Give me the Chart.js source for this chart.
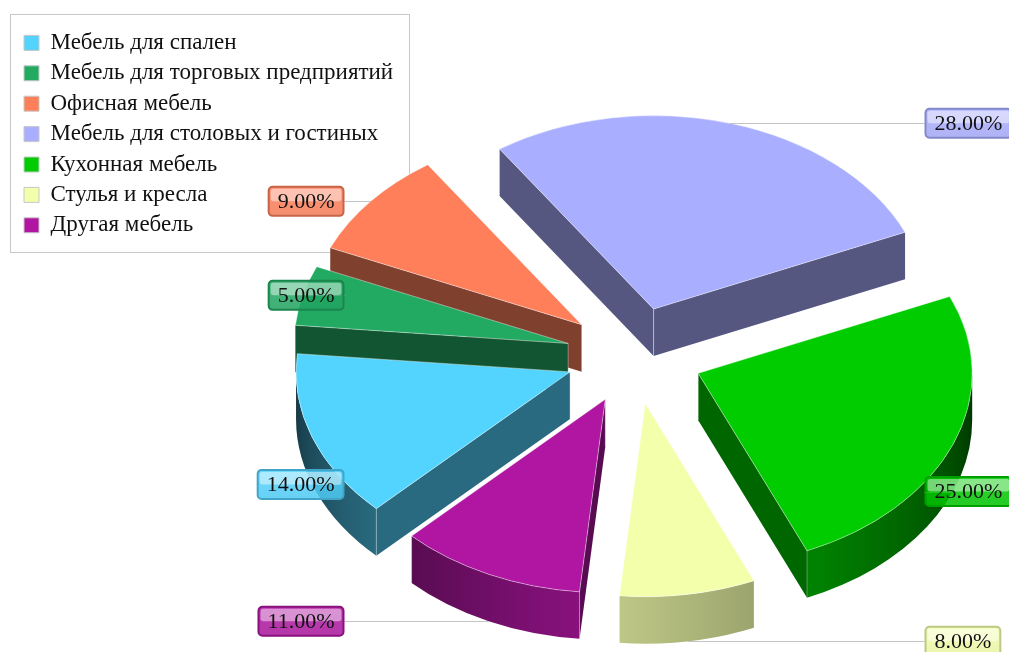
<!DOCTYPE html>
<html>
<head>
<meta charset="utf-8">
<script src="https://cdn.jsdelivr.net/npm/chart.js@4"></script>
<style>
  html, body { margin: 0; padding: 0; background: #fff; overflow: hidden; }
  canvas { display: block; }
</style>
</head>
<body>
<canvas id="pie" width="1009" height="652"></canvas>
<script>
const categories = ['Мебель для спален', 'Мебель для торговых предприятий', 'Офисная мебель', 'Мебель для столовых и гостиных', 'Кухонная мебель', 'Стулья и кресла', 'Другая мебель'];
const shares = [14, 5, 9, 28, 25, 8, 11];
const sliceColors = ['#52d4ff', '#22aa63', '#ff7f5b', '#a9aeff', '#00cc00', '#f3ffab', '#b016a2'];

const tilt = 0.706;        // how flat the pie lies
const pieRadius = 274;
const sliceOffset = 274;   // chart.js moves an arc by offset / 4
const pieDepth = 47;
const labelColumn = 290;   // label edge, measured from the pie centre
const wallAngles = [0, 66, 95, 135, 180];
const wallShades = [0.25, 0.64, 0.78, 0.5, 0.25];

function shade(hex, f) {
  const n = parseInt(hex.slice(1), 16);
  return 'rgb(' + Math.round((n >> 16 & 255) * f) + ',' + Math.round((n >> 8 & 255) * f) + ',' + Math.round((n & 255) * f) + ')';
}

function wallShade(rad) {
  const deg = rad * 180 / Math.PI;
  for (let i = 1; i < wallAngles.length; i++) {
    if (deg <= wallAngles[i]) {
      const t = (deg - wallAngles[i - 1]) / (wallAngles[i] - wallAngles[i - 1]);
      return wallShades[i - 1] + t * (wallShades[i] - wallShades[i - 1]);
    }
  }
  return wallShades[wallShades.length - 1];
}

// top corner of a slice on screen
function apexOf(arc) {
  const mid = (arc.startAngle + arc.endAngle) / 2;
  const off = sliceOffset / 4;
  return { x: arc.x + Math.cos(mid) * off, y: arc.y + Math.sin(mid) * off * tilt, mid: mid };
}

function rimPoint(apex, angle) {
  return { x: apex.x + Math.cos(angle) * pieRadius, y: apex.y + Math.sin(angle) * pieRadius * tilt };
}

function cutFace(ctx, apex, angle, color) {
  const p = rimPoint(apex, angle);
  ctx.beginPath();
  ctx.moveTo(apex.x, apex.y);
  ctx.lineTo(p.x, p.y);
  ctx.lineTo(p.x, p.y + pieDepth);
  ctx.lineTo(apex.x, apex.y + pieDepth);
  ctx.closePath();
  ctx.fillStyle = shade(color, 0.5);
  ctx.fill();
  ctx.beginPath();
  ctx.moveTo(apex.x, apex.y);
  ctx.lineTo(apex.x, apex.y + pieDepth);
  ctx.strokeStyle = 'rgba(255,255,255,0.35)';
  ctx.lineWidth = 1;
  ctx.stroke();
}

function curvedWall(ctx, apex, start, end, color) {
  // only the part of the rim that faces the viewer, angle 0..180
  for (let n = -2; n <= 1; n++) {
    const lo = 2 * Math.PI * n;
    const a0 = Math.max(start, lo);
    const a1 = Math.min(end, lo + Math.PI);
    if (a1 <= a0) continue;
    const x0 = rimPoint(apex, a0).x;
    const x1 = rimPoint(apex, a1).x;
    const grad = ctx.createLinearGradient(x0, 0, x1, 0);
    for (let i = 0; i <= 12; i++) {
      const a = a0 + (a1 - a0) * i / 12;
      const t = (rimPoint(apex, a).x - x0) / (x1 - x0);
      grad.addColorStop(Math.min(1, Math.max(0, t)), shade(color, wallShade(a - lo)));
    }
    ctx.beginPath();
    ctx.ellipse(apex.x, apex.y, pieRadius, pieRadius * tilt, 0, a0, a1);
    ctx.ellipse(apex.x, apex.y + pieDepth, pieRadius, pieRadius * tilt, 0, a1, a0, true);
    ctx.closePath();
    ctx.fillStyle = grad;
    ctx.fill();
    ctx.strokeStyle = 'rgba(255,255,255,0.3)';
    ctx.lineWidth = 1;
    // corner lines, only where the slice really ends
    [start, end].forEach(function (a) {
      if (a < a0 || a > a1) return;
      const p = rimPoint(apex, a);
      ctx.beginPath();
      ctx.moveTo(p.x, p.y);
      ctx.lineTo(p.x, p.y + pieDepth);
      ctx.stroke();
    });
  }
}

function roundBox(ctx, x, y, w, h, r) {
  ctx.beginPath();
  ctx.roundRect(x, y, w, h, r);
}

function drawLabel(ctx, text, color, anchorX, anchorY, onLeft) {
  ctx.font = '22px "Liberation Serif"';
  const w = ctx.measureText(text).width + 20;
  const h = 31;
  const x = onLeft ? anchorX - w : anchorX;
  const y = anchorY - h / 2;
  const body = ctx.createLinearGradient(0, y, 0, y + h);
  body.addColorStop(0, shade(color, 1));
  body.addColorStop(1, shade(color, 0.95));
  roundBox(ctx, x + 1, y + 1, w - 2, h - 2, 4);
  ctx.globalAlpha = 0.85;
  ctx.fillStyle = body;
  ctx.fill();
  ctx.globalAlpha = 1;
  ctx.strokeStyle = shade(color, 0.78);
  ctx.lineWidth = 2;
  ctx.stroke();
  roundBox(ctx, x + 3, y + 3, w - 6, h / 2 - 3, 3);
  ctx.fillStyle = 'rgba(255,255,255,0.45)';
  ctx.fill();
  ctx.fillStyle = '#111';
  ctx.textAlign = 'left';
  ctx.textBaseline = 'middle';
  ctx.fillText(text, x + 10, anchorY + 1);
}

const pie3d = {
  id: 'pie3d',
  afterDatasetsUpdate(chart) {
    // arc.draw resizes small arcs that have an offset, unless sin(circumference) is 1
    chart.getDatasetMeta(0).data.forEach(function (arc) {
      arc.circumference = Math.PI / 2;
    });
  },
  afterLayout(chart) {
    const legend = chart.legend;
    legend.left = 16.6;
    legend.top = 24;
    legend.right = 410;
    legend.bottom = 253;
  },
  beforeDraw(chart) {
    const ctx = chart.ctx;
    ctx.save();
    ctx.strokeStyle = '#c8c8c8';
    ctx.lineWidth = 1;
    ctx.strokeRect(10.5, 14.5, 399, 238);
    ctx.restore();
  },
  beforeDatasetsDraw(chart) {
    const ctx = chart.ctx;
    const arcs = chart.getDatasetMeta(0).data.map(function (arc, i) {
      return { arc: arc, i: i, apex: apexOf(arc) };
    });
    arcs.sort(function (a, b) { return a.apex.y - b.apex.y; });
    arcs.forEach(function (s) {
      const color = sliceColors[s.i];
      if (Math.cos(s.arc.startAngle) < 0) cutFace(ctx, s.apex, s.arc.startAngle, color);
      if (Math.cos(s.arc.endAngle) > 0) cutFace(ctx, s.apex, s.arc.endAngle, color);
      curvedWall(ctx, s.apex, s.arc.startAngle, s.arc.endAngle, color);
    });
    // flatten the tops drawn by the library
    const first = arcs[0].arc;
    ctx.save();
    ctx.translate(first.x, first.y);
    ctx.scale(1, tilt);
    ctx.translate(-first.x, -first.y);
  },
  afterDatasetsDraw(chart) {
    const ctx = chart.ctx;
    ctx.restore();
    chart.getDatasetMeta(0).data.forEach(function (arc, i) {
      const apex = apexOf(arc);
      const p = rimPoint(apex, apex.mid);
      const y = p.y + (Math.sin(apex.mid) > 0 ? pieDepth : 0);
      const onLeft = Math.cos(apex.mid) < 0;
      const edge = arc.x + (onLeft ? -labelColumn : labelColumn);
      ctx.beginPath();
      ctx.moveTo(p.x, Math.round(y) + 0.5);
      ctx.lineTo(edge, Math.round(y) + 0.5);
      ctx.strokeStyle = '#c4c4c4';
      ctx.lineWidth = 1;
      ctx.stroke();
      drawLabel(ctx, shares[i].toFixed(2) + '%', sliceColors[i], edge, y, onLeft);
    });
  }
};

const legendSize = 23;
const defaultLabels = Chart.overrides.doughnut.plugins.legend.labels.generateLabels;

new Chart(document.getElementById('pie').getContext('2d'), {
  type: 'pie',
  data: {
    labels: categories,
    datasets: [{
      data: shares,
      backgroundColor: sliceColors,
      borderColor: 'rgba(255,255,255,0.5)',
      borderWidth: 1,
      offset: sliceOffset,
      hoverOffset: 0,
      radius: pieRadius,
      clip: false
    }]
  },
  options: {
    responsive: false,
    animation: false,
    rotation: -135,
    layout: { padding: { left: 260, top: 59 } },
    events: [],
    plugins: {
      tooltip: { enabled: false },
      legend: {
        position: 'chartArea',
        align: 'start',
        labels: {
          boxWidth: 15,
          boxHeight: 15,
          color: '#111',
          padding: 30.4 - legendSize,
          font: { family: '"Liberation Serif"', size: legendSize },
          generateLabels(chart) {
            return defaultLabels(chart).map(function (item) {
              item.strokeStyle = '#c8c8c8';
              item.lineWidth = 1;
              return item;
            });
          }
        }
      }
    }
  },
  plugins: [pie3d]
});
</script>
</body>
</html>
